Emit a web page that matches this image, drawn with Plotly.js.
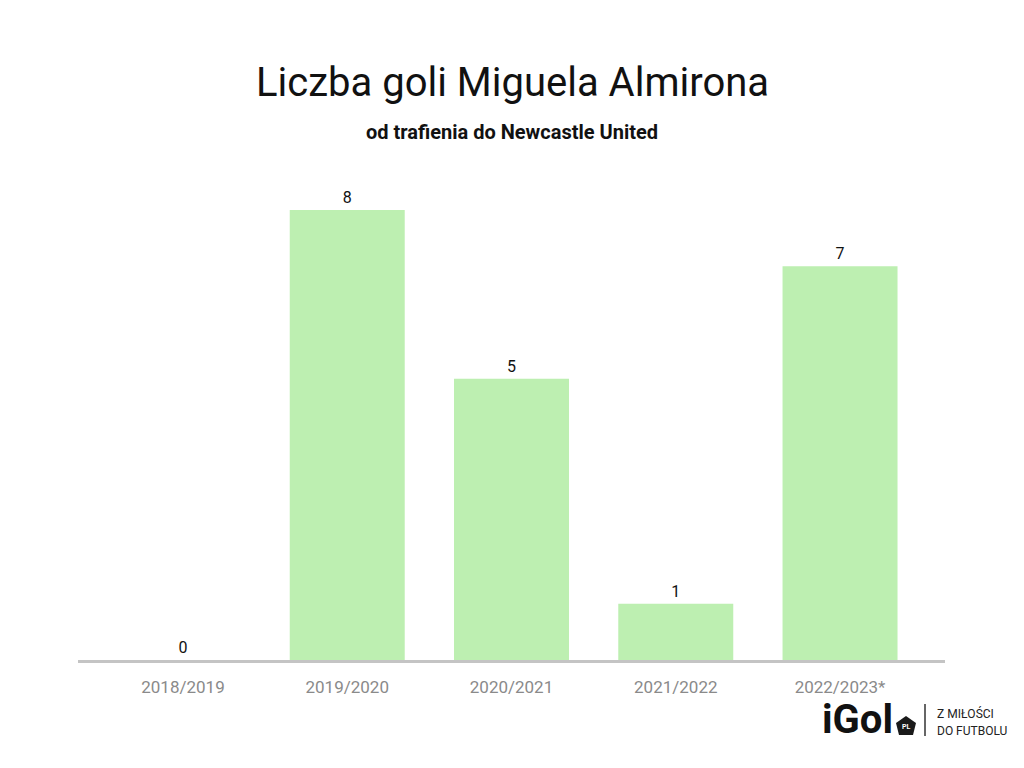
<!DOCTYPE html>
<html><head><meta charset="utf-8">
<script src="https://cdn.plot.ly/plotly-3.0.1.min.js"></script>
<style>html,body{margin:0;padding:0;background:#fff}#chart{width:1024px;height:768px}</style>
</head><body><div id="chart"></div>
<script>
const seasons = ["2018/2019","2019/2020","2020/2021","2021/2022","2022/2023*"];
const goals = [0,8,5,1,7];
const titleText = "Liczba goli Miguela Almirona";
const subtitleText = "od trafienia do Newcastle United";

const W=1024,H=768,L=78,R=79,T=180,B=108;
const pw=W-L-R, ph=H-T-B;
const px=x=>(x-L)/pw, py=y=>(H-B-y)/ph;

const trace={type:'bar',x:seasons,y:goals,width:0.7,
  marker:{color:'#bdefb1'},
  text:goals.map(String),textposition:'outside',cliponaxis:false,
  textfont:{family:'Roboto',size:16,color:'#111'},hoverinfo:'none'};

const layout={width:W,height:H,margin:{l:L,r:R,t:T,b:B},
  paper_bgcolor:'#fff',plot_bgcolor:'#fff',showlegend:false,
  font:{family:'Roboto'},
  xaxis:{type:'category',range:[-0.639,4.639],showline:true,linecolor:'#c4c4c4',linewidth:3,
    ticks:'',ticklabelstandoff:10,tickfont:{family:'Roboto',size:17,color:'#8a8a8a'},showgrid:false,zeroline:false,fixedrange:true},
  yaxis:{range:[0,ph/56.25],visible:false,showgrid:false,zeroline:false,fixedrange:true},
  annotations:[
    {text:titleText,xref:'paper',yref:'paper',x:px(512),y:py(83),showarrow:false,xanchor:'center',yanchor:'middle',
     font:{family:'Roboto',size:40,color:'#111'}},
    {text:'<b>'+subtitleText+'</b>',xref:'paper',yref:'paper',x:px(512),y:py(132),showarrow:false,xanchor:'center',yanchor:'middle',
     font:{family:'Roboto',size:20,color:'#111'}},
    {text:'<b>iGol</b>',xref:'paper',yref:'paper',x:px(820),y:py(719),showarrow:false,xanchor:'left',yanchor:'middle',
     font:{family:'Roboto',size:40,color:'#111'}},
    {text:'<b>PL</b>',xref:'paper',yref:'paper',x:px(906),y:py(727),showarrow:false,xanchor:'center',yanchor:'middle',
     font:{family:'Roboto',size:7,color:'#fff'}},
    {text:'Z MIŁOŚCI',xref:'paper',yref:'paper',x:px(935),y:py(713),showarrow:false,xanchor:'left',yanchor:'middle',
     font:{family:'Roboto',size:12,color:'#222'}},
    {text:'DO FUTBOLU',xref:'paper',yref:'paper',x:px(935),y:py(731),showarrow:false,xanchor:'left',yanchor:'middle',
     font:{family:'Roboto',size:12,color:'#222'}}
  ],
  shapes:[
    {type:'path',xref:'paper',yref:'paper',
     path:`M ${px(906)} ${py(716)} L ${px(916)} ${py(723)} L ${px(913)} ${py(735)} L ${px(899)} ${py(735)} L ${px(896)} ${py(723)} Z`,
     fillcolor:'#1a1a1a',line:{width:0}},
    {type:'line',xref:'paper',yref:'paper',x0:px(925),x1:px(925),y0:py(704),y1:py(736),line:{color:'#333',width:1.5}}
  ]
};
Plotly.newPlot('chart',[trace],layout,{staticPlot:true,displayModeBar:false});
</script></body></html>
